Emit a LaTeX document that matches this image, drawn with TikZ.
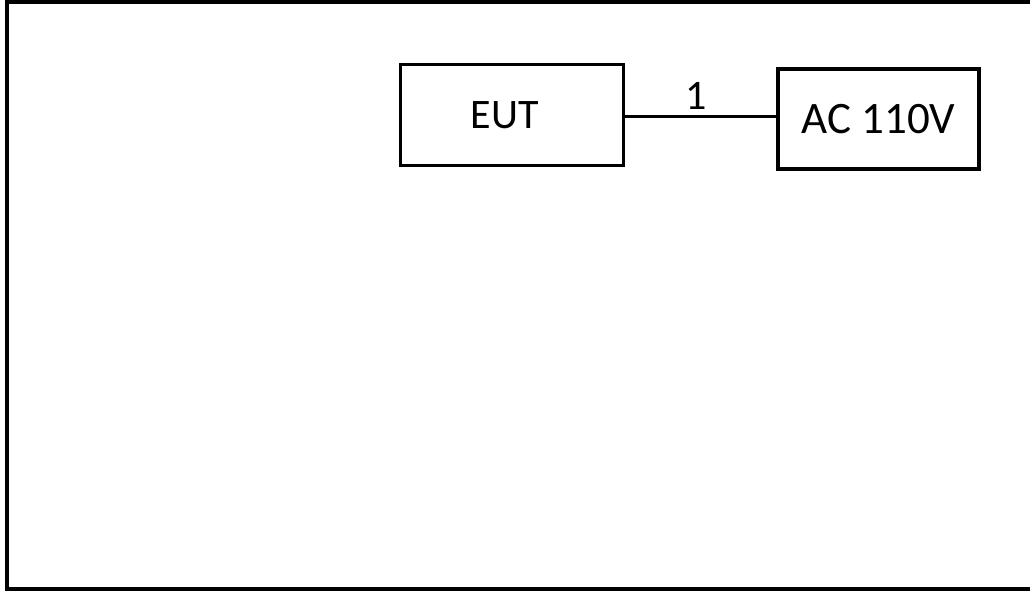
\documentclass[tikz,border=0pt]{standalone}
\usepackage{fontspec}
\setmainfont{Carlito}
\begin{document}
\begin{tikzpicture}[x=1pt,y=-1pt,
  boxstyle/.style={draw=black, rectangle, inner sep=0pt, font=\fontsize{42}{50}\selectfont},
  wire/.style={draw=black, line width=3pt},
  lbl/.style={inner sep=0pt, font=\fontsize{42}{50}\selectfont}]
\useasboundingbox (0,0) rectangle (1030,591);
\clip (0,0) rectangle (1030,591);
\draw[line width=3.5pt] (1040,2) -- (7,2) -- (7,589) -- (1040,589);
\node[boxstyle, line width=3pt, minimum width=223pt, minimum height=100pt] (eut) at (511.5,115) {\hspace*{-14pt}EUT};
\node[boxstyle, line width=4pt, minimum width=201pt, minimum height=100pt, font=\fontsize{45}{54}\selectfont] (ac) at (878.5,119) {AC 110V};
\coordinate (lineY) at (0,117);
\draw[wire] (eut.east |- lineY) -- node[lbl, above=6pt, xshift=-4pt] (n1) {1} (ac.west |- lineY);
\end{tikzpicture}
\end{document}
